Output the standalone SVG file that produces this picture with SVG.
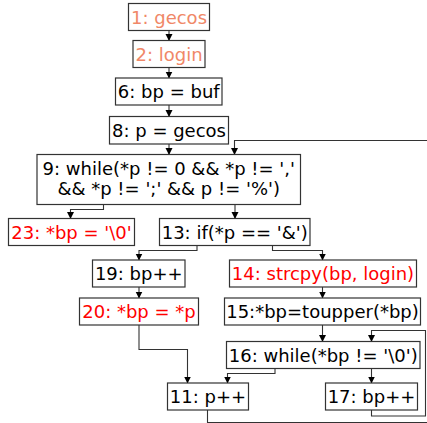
<svg xmlns="http://www.w3.org/2000/svg" width="427" height="423" viewBox="0 0 427 423">
<style>
.n rect{fill:#fff;stroke:#333;stroke-width:1.2}
.n text{font-family:"DejaVu Sans",sans-serif;font-size:18px;text-anchor:middle;fill:#000}
.n text.s{fill:#f08868}
.n text.r{fill:#ff0000}
#edges path{fill:none;stroke:#333;stroke-width:1.1;marker-end:url(#ah)}
</style>
<defs>
<marker id="ah" markerUnits="userSpaceOnUse" markerWidth="8" markerHeight="8" refX="6.5" refY="3.5" orient="auto">
<path d="M0,0 L7,3.5 L0,7 z" fill="#000"/>
</marker>
</defs>
<rect width="427" height="423" fill="#fff"/>
<g id="edges">
<path d="M169 30.5 V40.5"/>
<path d="M169 67.5 V78"/>
<path d="M169 105 V116.5"/>
<path d="M169 144 V154.5"/>
<path d="M207.5 410 V422.5 H430 V140.5 H234.5 V154.5"/>
<path d="M103.5 204.5 V209.5 H70.5 V218.5"/>
<path d="M235 204.5 V218.5"/>
<path d="M197 245.5 V250.5 H139 V260"/>
<path d="M272.5 245.5 V250.5 H322.5 V260"/>
<path d="M139 287 V298"/>
<path d="M322.5 287 V298"/>
<path d="M139 325 V349.5 H187.5 V383"/>
<path d="M322.5 325 V341.5"/>
<path d="M275 368.5 V373.5 H227.5 V383"/>
<path d="M371.5 368.5 V383"/>
<path d="M371.5 410 V416 H425.5 V330.5 H371.5 V341.5"/>
</g>
<g id="n1" class="n"><rect x="128.5" y="3.5" width="81" height="27"/><text class="s" x="169" y="23.5">1: gecos</text></g>
<g id="n2" class="n"><rect x="133" y="40.5" width="72" height="27"/><text class="s" x="169" y="60.5">2: login</text></g>
<g id="n6" class="n"><rect x="115.5" y="78" width="106.5" height="27"/><text x="168.75" y="97.5">6: bp = buf</text></g>
<g id="n8" class="n"><rect x="109.5" y="116.5" width="119" height="27.5"/><text x="169" y="136.5">8: p = gecos</text></g>
<g id="n9" class="n"><rect x="37" y="154.5" width="263.5" height="50"/><text x="168.75" y="175">9: while(*p != 0 &amp;&amp; *p != ','</text><text x="168.75" y="195">&amp;&amp; *p != ';' &amp;&amp; p != '%')</text></g>
<g id="n23" class="n"><rect x="8.5" y="218.5" width="126" height="27"/><text class="r" x="71.5" y="238.5">23: *bp = '\0'</text></g>
<g id="n13" class="n"><rect x="159.5" y="218.5" width="150.5" height="27"/><text x="234.75" y="238.5">13: if(*p == '&amp;')</text></g>
<g id="n19" class="n"><rect x="92.5" y="260" width="92.5" height="27"/><text x="138.75" y="280">19: bp++</text></g>
<g id="n14" class="n"><rect x="229.5" y="260" width="187" height="27"/><text class="r" x="323" y="280">14: strcpy(bp, login)</text></g>
<g id="n20" class="n"><rect x="79.5" y="298" width="119" height="27"/><text class="r" x="139" y="318">20: *bp = *p</text></g>
<g id="n15" class="n"><rect x="224.5" y="298" width="196" height="27"/><text x="322.5" y="318">15:*bp=toupper(*bp)</text></g>
<g id="n16" class="n"><rect x="226.5" y="341.5" width="193.5" height="27"/><text x="323.25" y="361.5">16: while(*bp != '\0')</text></g>
<g id="n11" class="n"><rect x="167.5" y="383" width="81" height="27"/><text x="208" y="403">11: p++</text></g>
<g id="n17" class="n"><rect x="325.5" y="383" width="92" height="27"/><text x="371.5" y="403">17: bp++</text></g>
</svg>
